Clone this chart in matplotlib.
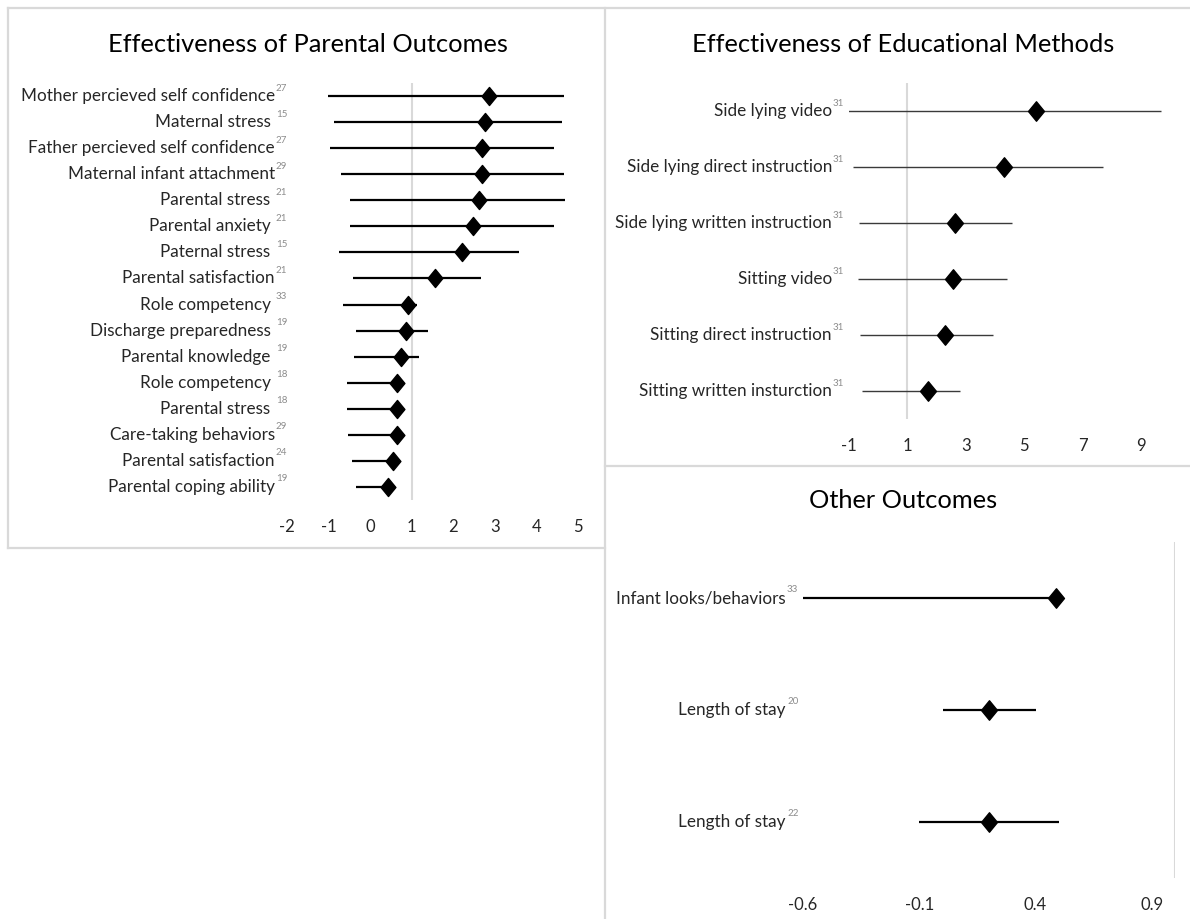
import matplotlib
matplotlib.use('Agg')
import matplotlib.pyplot as plt
from matplotlib.lines import Line2D
from matplotlib.path import Path
from matplotlib.transforms import offset_copy

plt.rcParams['font.family'] = ['Lato', 'DejaVu Sans']

# Effectiveness of Parental Outcomes
parent_labels = ['Mother percieved self confidence', 'Maternal stress ', 'Father percieved self confidence',
                 'Maternal infant attachment', 'Parental stress ', 'Parental anxiety ', 'Paternal stress ',
                 'Parental satisfaction', 'Role competency ', 'Discharge preparedness ', 'Parental knowledge ',
                 'Role competency ', 'Parental stress ', 'Care-taking behaviors', 'Parental satisfaction',
                 'Parental coping ability']
parent_refs = ['27', '15', '27', '29', '21', '21', '15', '21', '33', '19', '19', '18', '18', '29', '24', '19']
parent_est = [2.85, 2.76, 2.70, 2.70, 2.61, 2.47, 2.20, 1.55, 0.92, 0.87, 0.74, 0.64, 0.64, 0.64, 0.55, 0.44]
parent_lo = [-1.01, -0.86, -0.97, -0.70, -0.49, -0.49, -0.75, -0.41, -0.66, -0.34, -0.38, -0.56, -0.56, -0.54, -0.44, -0.34]
parent_hi = [4.67, 4.62, 4.42, 4.67, 4.69, 4.42, 3.58, 2.67, 1.12, 1.38, 1.18, 0.80, 0.80, 0.80, 0.70, 0.60]
parent_ticks = [-2, -1, 0, 1, 2, 3, 4, 5]

# Effectiveness of Educational Methods
edu_labels = ['Side lying video', 'Side lying direct instruction', 'Side lying written instruction',
              'Sitting video', 'Sitting direct instruction', 'Sitting written insturction']
edu_refs = ['31', '31', '31', '31', '31', '31']
edu_est = [5.42, 4.31, 2.62, 2.58, 2.29, 1.70]
edu_lo = [-1.06, -0.87, -0.65, -0.68, -0.62, -0.55]
edu_hi = [9.70, 7.70, 4.60, 4.43, 3.95, 2.80]
edu_ticks = [-1, 1, 3, 5, 7, 9]

# Other Outcomes
other_labels = ['Infant looks/behaviors', 'Length of stay', 'Length of stay']
other_refs = ['33', '20', '22']
other_est = [0.49, 0.20, 0.20]
other_lo = [-0.60, 0.00, -0.10]
other_hi = [0.49, 0.40, 0.50]
other_ticks = [-0.6, -0.1, 0.4, 0.9]

W, H = 1190, 919
fig = plt.figure(figsize=(W / 100, H / 100), dpi=100)


def px_box(x0, y0, x1, y1):
    return [x0 / W, 1 - y1 / H, (x1 - x0) / W, (y1 - y0) / H]


def fig_line(x0, y0, x1, y1):
    fig.add_artist(Line2D([x0 / W, x1 / W], [1 - y0 / H, 1 - y1 / H], color='#d9d9d9', lw=1.6))


diamond = Path([(-0.82, 0), (0, 1), (0.82, 0), (0, -1), (-0.82, 0)],
               [Path.MOVETO, Path.LINETO, Path.LINETO, Path.LINETO, Path.CLOSEPOLY])


def forest(ax, labels, refs, est, lo, hi, ticks, xlim, lw, color, gap, ms=13):
    y = list(range(len(labels)))
    ax.axvline(1, color='#d9d9d9', lw=1.5, zorder=1)
    ax.hlines(y, lo, hi, color=color, lw=lw, zorder=2)
    ax.plot(est, y, ls='none', marker=diamond, ms=ms, color='black', zorder=3)
    ax.set_xlim(*xlim)
    ax.set_ylim(len(labels) - 0.5, -0.5)
    for s in ax.spines.values():
        s.set_visible(False)
    ax.set_yticks([])
    ax.set_xticks(ticks)
    ax.set_xticklabels([('%g' % t) for t in ticks])
    ax.tick_params(axis='x', length=0, pad=14, labelsize=12, colors='#262626')
    ax.patch.set_alpha(0)
    lab_tr = offset_copy(ax.get_yaxis_transform(), fig=fig, x=-gap, y=0, units='dots')
    sup_tr = offset_copy(ax.get_yaxis_transform(), fig=fig, x=-gap + 1, y=8, units='dots')
    for i, (lab, ref) in enumerate(zip(labels, refs)):
        ax.text(0, i, lab, transform=lab_tr, ha='right', va='center', fontsize=12.3, color='#262626')
        ax.text(0, i, ref, transform=sup_tr, ha='left', va='center', fontsize=7, color='#8c8c8c')


# panel borders
fig_line(8, 8, 1190, 8)
fig_line(8, 8, 8, 548)
fig_line(8, 548, 605, 548)
fig_line(605, 8, 605, 919)
fig_line(605, 466, 1190, 466)

ax1 = fig.add_axes(px_box(287, 83, 578, 500))
forest(ax1, parent_labels, parent_refs, parent_est, parent_lo, parent_hi, parent_ticks,
       (-2, 5), 1.6, 'black', 12)
fig.text(308 / W, 1 - 45 / H, 'Effectiveness of Parental Outcomes', ha='center', va='center', fontsize=18.3)

ax2 = fig.add_axes(px_box(849, 83, 1170, 419))
forest(ax2, edu_labels, edu_refs, edu_est, edu_lo, edu_hi, edu_ticks,
       (-1, 10), 1.0, '#3a3a3a', 17, ms=14)
fig.text(903 / W, 1 - 45 / H, 'Effectiveness of Educational Methods', ha='center', va='center', fontsize=18.3)

ax3 = fig.add_axes(px_box(803, 542, 1175, 878))
forest(ax3, other_labels, other_refs, other_est, other_lo, other_hi, other_ticks,
       (-0.6, 1.0), 1.6, 'black', 17, ms=14)
fig.text(903 / W, 1 - 500 / H, 'Other Outcomes', ha='center', va='center', fontsize=18.3)

fig.savefig('out.png', dpi=100, facecolor='white')
